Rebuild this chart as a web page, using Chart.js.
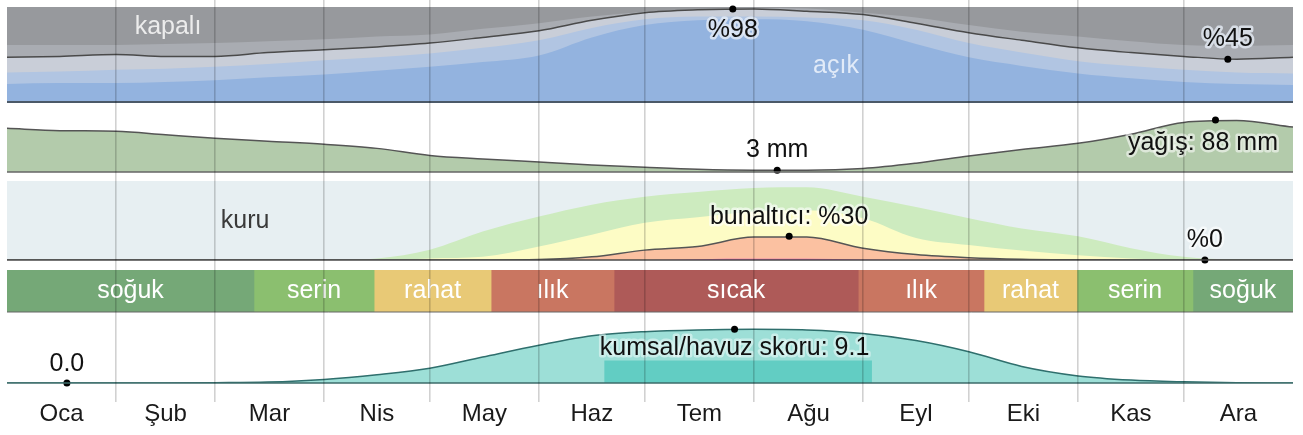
<!DOCTYPE html>
<html>
<head>
<meta charset="utf-8">
<script src="https://cdn.jsdelivr.net/npm/chart.js@4"></script>
<style>
  body { margin: 0; background: #fff; }
  #wrap { position: relative; width: 1303px; height: 435px; }
  #wrap canvas { position: absolute; left: 0; top: 0; }
</style>
</head>
<body>
<div id="wrap">
  <canvas id="cloudChart" width="1303" height="435"></canvas>
  <canvas id="rainChart" width="1303" height="435"></canvas>
  <canvas id="humidChart" width="1303" height="435"></canvas>
  <canvas id="tempChart" width="1303" height="435"></canvas>
  <canvas id="beachChart" width="1303" height="435"></canvas>
  <canvas id="gridChart" width="1303" height="435"></canvas>
</div>
<script>
const FAMILY = '"Liberation Sans", Arial, sans-serif';
const FONT = '25px ' + FAMILY;

// months
const monthLabels = ['Oca', 'Şub', 'Mar', 'Nis', 'May', 'Haz', 'Tem', 'Ağu', 'Eyl', 'Eki', 'Kas', 'Ara'];
const monthDays = [31, 28, 31, 30, 31, 30, 31, 31, 30, 31, 30, 31];

// day of year for every sample below
const days = [0, 15, 31, 45, 59, 74, 90, 105, 120, 135, 151, 166, 181, 196, 212, 227, 243, 258, 273, 288, 304, 319, 334, 349, 365];

// cloud cover, cumulative % of time from the bottom
const clearPct        = [19, 20, 20, 21, 23, 26, 29, 33, 37, 42, 49, 68, 81, 86, 87, 85, 76, 61, 47, 38, 30, 25, 21, 19, 18];
const mostlyClearPct  = [31, 32, 34, 35, 37, 40, 44, 47, 51, 57, 65, 78, 87, 90, 90, 89, 86, 76, 62, 52, 43, 38, 34, 31, 30];
const partlyPct       = [47, 48, 50, 48, 48, 52, 55, 58, 62, 68, 75, 86, 94, 97, 98, 95.5, 92, 83, 73, 65, 57, 52, 48, 45, 47];
const mostlyCloudyPct = [60, 60, 60, 61, 62, 64, 66, 69, 71, 77, 83, 90, 95, 98, 99, 98.5, 94, 89, 81, 74, 69, 64, 60, 59, 60];

// rainfall (mm, 31-day sliding)
const rainMm = [74, 70, 69, 63, 57, 52, 47, 40, 28, 22, 17, 12, 8, 4.5, 3, 3, 6, 15, 27, 38, 48.5, 64, 84, 87, 76];

// humidity comfort, cumulative % of time from the bottom
const humidPct     = [0, 0, 0, 0, 0, 0, 0, 2, 13, 36, 55, 70, 80, 86, 91, 92, 80, 67, 53, 40, 30, 15, 4, 0.5, 0];
const sultryPct    = [0, 0, 0, 0, 0, 0, 0, 0, 2, 4, 17, 32, 47, 54, 61, 63, 53, 28, 19, 12, 6, 2, 0, 0, 0];
const muggyPct     = [0, 0, 0, 0, 0, 0, 0, 0, 0, 0, 0.5, 4, 12.5, 17, 29, 29, 15, 7, 3, 1, 0.3, 0, 0, 0, 0];
const miserablePct = [0, 0, 0, 0, 0, 0, 0, 0, 0, 0, 0, 0, 0, 1, 1.5, 1.5, 0.5, 0, 0, 0, 0, 0, 0, 0, 0];

// temperature bands
const tempNames = ['soğuk', 'serin', 'rahat', 'ılık', 'sıcak', 'ılık', 'rahat', 'serin', 'soğuk'];
const tempEdges = [0, 70.1, 104.2, 137.4, 172.3, 241.6, 277.3, 303.7, 336.6, 365];

// beach / pool score
const beachScore = [0, 0, 0, 0.01, 0.05, 0.15, 0.6, 1.4, 2.5, 4.4, 6.4, 8.0, 8.7, 9.0, 9.1, 9.0, 8.4, 7.2, 5.3, 2.8, 1.2, 0.5, 0.2, 0.05, 0];
const bestDays = [169.5, 245.5];
const bestLevel = [3.8, 3.8];

// marked extremes
const cloudMarkDays = [206, 346.5], cloudMarkVals = [98, 45], cloudMarkText = ['%98', '%45'];
const rainMarkDays = [218.6, 343], rainMarkVals = [3, 88], rainMarkText = ['3 mm', 'yağış: 88 mm'];
const humidMarkDays = [222, 340], humidMarkVals = [30, 0], humidMarkText = ['bunaltıcı: %30', '%0'];
const beachMarkDays = [17, 206.5], beachMarkVals = [0, 9.1], beachMarkText = ['0.0', 'kumsal/havuz skoru: 9.1'];

const tempColors = ['#75a877', '#8bbf6f', '#e8c976', '#c97661', '#ae5a58', '#c97661', '#e8c976', '#8bbf6f', '#75a877'];

function pts(xs, vals) { return xs.map((d, i) => ({ x: d, y: vals[i] })); }

function haloText(ctx, text, x, y, color, halo) {
  ctx.save();
  ctx.font = FONT;
  ctx.textAlign = 'center';
  ctx.textBaseline = 'middle';
  if (halo) {
    ctx.lineJoin = 'round';
    ctx.lineWidth = 5;
    ctx.strokeStyle = halo;
    ctx.strokeText(text, x, y);
  }
  ctx.fillStyle = color;
  ctx.fillText(text, x, y);
  ctx.restore();
}

// background, baseline, panel notes and mark labels
const panelDeco = {
  id: 'panelDeco',
  beforeDatasetsDraw(chart, args, opts) {
    if (!opts.bg) return;
    const a = chart.chartArea, ctx = chart.ctx;
    ctx.save();
    ctx.fillStyle = opts.bg;
    ctx.fillRect(a.left, a.top, a.right - a.left, a.bottom - a.top);
    ctx.restore();
  },
  afterDatasetsDraw(chart, args, opts) {
    const a = chart.chartArea, ctx = chart.ctx;
    if (opts.baseline) {
      ctx.save();
      ctx.strokeStyle = opts.baseline;
      ctx.lineWidth = opts.baselineWidth || 1.5;
      ctx.beginPath();
      ctx.moveTo(a.left, a.bottom);
      ctx.lineTo(a.right, a.bottom);
      ctx.stroke();
      ctx.restore();
    }
    (opts.notes || []).forEach(n => {
      const x = chart.scales.x.getPixelForValue(n.day);
      const y = chart.scales.y.getPixelForValue(n.value);
      haloText(ctx, n.text, x, y, n.color, null);
    });
    chart.data.datasets.forEach((ds, i) => {
      if (!ds.markText) return;
      chart.getDatasetMeta(i).data.forEach((pt, j) => {
        ctx.save();
        ctx.font = FONT;
        const w = ctx.measureText(ds.markText[j]).width;
        ctx.restore();
        let x = pt.x;
        if (x + w / 2 > a.right - 15) x = a.right - 15 - w / 2;
        haloText(ctx, ds.markText[j], x, pt.y + ds.markDy[j], '#111', ds.markHalo);
      });
    });
  }
};
Chart.register(panelDeco);

function panel(top, bottom, yMax, deco) {
  return {
    responsive: false,
    animation: false,
    devicePixelRatio: 1,
    layout: { padding: { left: 7, right: 10, top: top, bottom: 435 - bottom } },
    elements: { point: { radius: 0 }, line: { cubicInterpolationMode: 'monotone' } },
    plugins: { legend: { display: false }, tooltip: { enabled: false }, panelDeco: deco },
    scales: {
      x: { type: 'linear', min: 0, max: 365, display: false },
      y: { min: 0, max: yMax, display: false }
    }
  };
}

function area(vals, fillColor, lineColor) {
  return {
    data: pts(days, vals),
    fill: 'origin',
    backgroundColor: fillColor,
    borderColor: lineColor || 'transparent',
    borderWidth: lineColor ? 1.5 : 0,
    pointRadius: 0
  };
}

function marks(ds, vs, texts, dy, halo) {
  return {
    data: pts(ds, vs),
    showLine: false,
    fill: false,
    pointRadius: 3.5,
    pointBackgroundColor: '#000',
    pointBorderWidth: 0,
    clip: false,
    markText: texts,
    markDy: dy,
    markHalo: halo
  };
}

// Cloud cover
new Chart(document.getElementById('cloudChart'), {
  type: 'line',
  data: {
    datasets: [
      marks(cloudMarkDays, cloudMarkVals, cloudMarkText, [21, -20], 'rgba(230,236,246,0.8)'),
      area(clearPct, '#93b3df'),
      area(mostlyClearPct, '#b1c5e2'),
      area(partlyPct, '#c9ced8', '#4a4a4a'),
      area(mostlyCloudyPct, '#a9acb2')
    ]
  },
  options: panel(7, 102, 100, {
    bg: '#97999d', baseline: '#4b5968', baselineWidth: 2,
    notes: [
      { day: 45.7, value: 79, text: 'kapalı', color: '#ececec' },
      { day: 235.3, value: 38, text: 'açık', color: '#e2ebf8' }
    ]
  })
});

// Precipitation
new Chart(document.getElementById('rainChart'), {
  type: 'line',
  data: {
    datasets: [
      marks(rainMarkDays, rainMarkVals, rainMarkText, [-20, 23], 'rgba(255,255,255,0.55)'),
      area(rainMm, '#b3cbab', '#555555')
    ]
  },
  options: panel(115, 172, 96.5, { baseline: '#666666' })
});

// Humidity comfort
new Chart(document.getElementById('humidChart'), {
  type: 'line',
  data: {
    datasets: [
      marks(humidMarkDays, humidMarkVals, humidMarkText, [-19, -20], 'rgba(255,255,255,0.6)'),
      area(miserablePct, '#e05ab0'),
      area(muggyPct, '#fbc1a1', '#555555'),
      area(sultryPct, '#fdfcc5'),
      area(humidPct, '#cdebbf')
    ]
  },
  options: panel(181, 260, 100, {
    bg: '#e7eff2', baseline: '#4a4a4a',
    notes: [{ day: 67.6, value: 49, text: 'kuru', color: '#3a3a3a' }]
  })
});

// Temperature bands
new Chart(document.getElementById('tempChart'), {
  type: 'bar',
  data: {
    labels: ['t'],
    datasets: tempNames.map((name, i) => ({
      label: name,
      data: [[tempEdges[i], tempEdges[i + 1]]],
      backgroundColor: tempColors[i],
      borderWidth: 0,
      barPercentage: 1,
      categoryPercentage: 1,
      grouped: false
    }))
  },
  options: {
    responsive: false,
    animation: false,
    devicePixelRatio: 1,
    indexAxis: 'y',
    layout: { padding: { left: 7, right: 10, top: 270, bottom: 435 - 312 } },
    plugins: { legend: { display: false }, tooltip: { enabled: false }, panelDeco: { baseline: '#666666', baselineWidth: 1 } },
    scales: {
      x: { type: 'linear', min: 0, max: 365, display: false },
      y: { display: false }
    }
  },
  plugins: [{
    id: 'bandText',
    afterDatasetsDraw(chart) {
      chart.data.datasets.forEach((ds, i) => {
        const bar = chart.getDatasetMeta(i).data[0];
        haloText(chart.ctx, ds.label, (bar.x + bar.base) / 2, bar.y, '#ffffff', null);
      });
    }
  }]
});

// Beach / pool score
new Chart(document.getElementById('beachChart'), {
  type: 'line',
  data: {
    datasets: [
      marks(beachMarkDays, beachMarkVals, beachMarkText, [-19, 19], 'rgba(255,255,255,0.45)'),
      { data: pts(bestDays, bestLevel), fill: 'origin', backgroundColor: '#62cdc3',
        borderColor: 'transparent', borderWidth: 0, pointRadius: 0, cubicInterpolationMode: 'default', tension: 0 },
      area(beachScore, '#9ddfd7', '#2f6f6d')
    ]
  },
  options: panel(324, 383, 10, { baseline: '#3d6b6a' })
});

// Month grid and labels on top
const monthStarts = [];
const monthMids = [];
let acc = 0;
monthDays.forEach(n => { monthMids.push(acc + n / 2); acc += n; monthStarts.push(acc); });
monthStarts.pop();

new Chart(document.getElementById('gridChart'), {
  type: 'line',
  data: { datasets: [] },
  options: {
    responsive: false,
    animation: false,
    devicePixelRatio: 1,
    layout: { padding: { left: 7, right: 10, top: 0, bottom: 0 } },
    plugins: { legend: { display: false }, tooltip: { enabled: false } },
    scales: {
      x: {
        type: 'linear', min: 0, max: 365, position: 'bottom',
        afterBuildTicks: ax => { ax.ticks = monthStarts.map(v => ({ value: v })); },
        afterFit: ax => { ax.height = 0; },
        ticks: { display: false },
        grid: { color: 'rgba(0,0,0,0.18)', lineWidth: 1.6, drawTicks: false },
        border: { display: false }
      },
      months: {
        type: 'linear', min: 0, max: 365, position: 'bottom',
        afterBuildTicks: ax => { ax.ticks = monthMids.map(v => ({ value: v })); },
        afterFit: ax => { ax.height = 33; },
        ticks: {
          autoSkip: false, maxRotation: 0, padding: -2, color: '#1a1a1a',
          font: { family: FAMILY, size: 24 },
          callback: (v, i) => monthLabels[i]
        },
        grid: { display: false, drawTicks: false },
        border: { display: false }
      },
      y: { display: false }
    }
  }
});
</script>
</body>
</html>
